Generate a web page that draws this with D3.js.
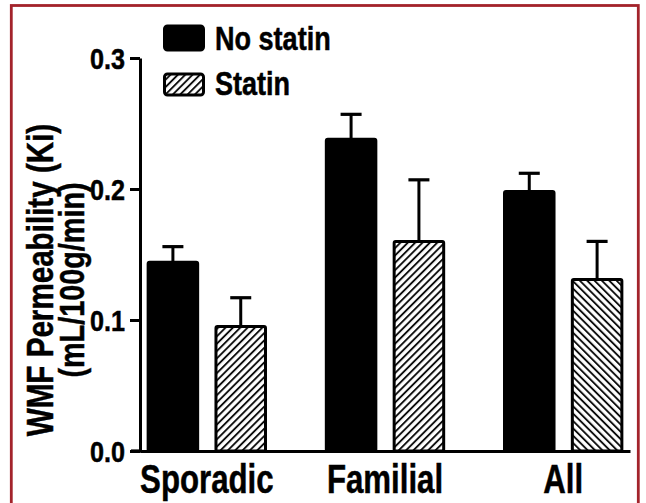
<!DOCTYPE html>
<html>
<head>
<meta charset="utf-8">
<script src="https://cdn.jsdelivr.net/npm/d3@7"></script>
<style>
  html, body { margin: 0; padding: 0; background: #fff; }
  svg text { font-family: "Liberation Sans", Arial, Helvetica, sans-serif; font-weight: bold; fill: #000; stroke: #000; stroke-width: 0.5; }
</style>
</head>
<body>
<div id="chart"></div>
<script>
// data
const groups = ["Sporadic", "Familial", "All"];
const seriesNames = ["No statin", "Statin"];
const noStatin = [0.144, 0.238, 0.198];
const noStatinErr = [0.012, 0.019, 0.014];
const statin = [0.095, 0.160, 0.131];
const statinErr = [0.022, 0.047, 0.029];
const yTicks = [0, 0.1, 0.2, 0.3];

const W = 646, H = 503;
const squeezeK = 0.78; // condensed look of the original font

const svg = d3.select("#chart").append("svg")
  .attr("width", W)
  .attr("height", H);

// hatch patterns
const defs = svg.append("defs");
function hatch(id, angle) {
  const p = defs.append("pattern")
    .attr("id", id)
    .attr("patternUnits", "userSpaceOnUse")
    .attr("width", 5.2)
    .attr("height", 5.2)
    .attr("patternTransform", `rotate(${angle})`);
  p.append("rect").attr("width", 5.2).attr("height", 5.2).attr("fill", "#fff");
  p.append("line")
    .attr("x1", 1).attr("x2", 1).attr("y1", 0).attr("y2", 5.2)
    .attr("stroke", "#000").attr("stroke-width", 1.8);
}
hatch("hatchFwd", 45);
hatch("hatchBack", -45);

// frame
svg.append("rect")
  .attr("x", 11.3).attr("y", 5.5)
  .attr("width", 627).attr("height", 540)
  .attr("fill", "none")
  .attr("stroke", "#a3232b")
  .attr("stroke-width", 2.8);

const rows = groups.map((g, i) => ({
  group: g,
  bars: [
    {name: seriesNames[0], value: noStatin[i], err: noStatinErr[i]},
    {name: seriesNames[1], value: statin[i], err: statinErr[i]}
  ]
}));

const y = d3.scaleLinear().domain([0, 0.3]).range([451, 58]);

const x0 = d3.scaleBand()
  .domain(groups)
  .range([140, 630])
  .paddingInner(0.25)
  .paddingOuter(0);

const x1 = d3.scaleBand()
  .domain(seriesNames)
  .range([0, x0.bandwidth()])
  .paddingInner(0.27)
  .paddingOuter(0.12);

function fillFor(d, g) {
  if (d.name === seriesNames[0]) return "#000";
  return g === "All" ? "url(#hatchBack)" : "url(#hatchFwd)";
}

// bars + error bars
const gGroup = svg.selectAll(".grp")
  .data(rows)
  .join("g")
  .attr("class", "grp")
  .attr("transform", d => `translate(${x0(d.group)},0)`);

gGroup.each(function(row) {
  const g = d3.select(this);
  const bw = x1.bandwidth();

  g.selectAll(".err")
    .data(row.bars)
    .join("g")
    .attr("class", "err")
    .each(function(d) {
      const cx = x1(d.name) + bw / 2;
      const e = d3.select(this);
      e.append("line")
        .attr("x1", cx).attr("x2", cx)
        .attr("y1", y(d.value)).attr("y2", y(d.value + d.err))
        .attr("stroke", "#000").attr("stroke-width", 3);
      e.append("line")
        .attr("x1", cx - 10.5).attr("x2", cx + 10.5)
        .attr("y1", y(d.value + d.err)).attr("y2", y(d.value + d.err))
        .attr("stroke", "#000").attr("stroke-width", 3.2);
    });

  g.selectAll(".bar")
    .data(row.bars)
    .join("rect")
    .attr("class", "bar")
    .attr("x", d => x1(d.name))
    .attr("y", d => y(d.value))
    .attr("width", bw)
    .attr("height", d => y(0) - y(d.value))
    .attr("rx", 1.5)
    .attr("fill", d => fillFor(d, row.group))
    .attr("stroke", "#000")
    .attr("stroke-width", 3);
});

// y axis
const yAxis = svg.append("g")
  .attr("transform", "translate(140,0)")
  .call(d3.axisLeft(y).tickValues(yTicks).tickFormat(d3.format(".1f")).tickSize(10).tickSizeOuter(0));
yAxis.select(".domain").attr("stroke-width", 3);
yAxis.selectAll(".tick line").attr("stroke-width", 3);
yAxis.selectAll(".tick text")
  .attr("x", null)
  .attr("dy", "0.36em")
  .attr("font-size", 30)
  .attr("transform", `translate(-15,0) scale(0.84,1)`);

// x axis
const xAxis = svg.append("g")
  .attr("transform", `translate(0,${y(0)})`)
  .call(d3.axisBottom(x0).tickSize(0).tickSizeOuter(0));
xAxis.select(".domain").attr("stroke-width", 3.2);
xAxis.selectAll(".tick text")
  .attr("y", null)
  .attr("dy", null)
  .attr("font-size", 40)
  .attr("transform", `translate(0,42) scale(${squeezeK},1)`);
// short left stub below the y axis (0.0 tick merges with baseline)
svg.append("line")
  .attr("x1", 131).attr("x2", 141)
  .attr("y1", y(0)).attr("y2", y(0))
  .attr("stroke", "#000").attr("stroke-width", 3.2);

// y title
const title = svg.append("g").attr("transform", "translate(0,280) rotate(-90)");
title.append("text")
  .attr("text-anchor", "middle")
  .attr("font-size", 37)
  .attr("transform", `translate(0,53) scale(0.8,1)`)
  .text("WMF Permeability (Ki)");
title.append("text")
  .attr("text-anchor", "middle")
  .attr("font-size", 36)
  .attr("transform", `translate(0,84) scale(0.8,1)`)
  .text("(mL/100g/min)");

// legend
const legend = svg.append("g").attr("transform", "translate(163,0)");
const legendRows = [
  {name: seriesNames[0], fill: "#000", y: 26, h: 24},
  {name: seriesNames[1], fill: "url(#hatchFwd)", y: 74, h: 21}
];
legendRows.forEach(r => {
  legend.append("rect")
    .attr("x", 1.5).attr("y", r.y)
    .attr("width", 39).attr("height", r.h)
    .attr("rx", 3)
    .attr("fill", r.fill)
    .attr("stroke", "#000").attr("stroke-width", 3);
  legend.append("text")
    .attr("font-size", 33)
    .attr("transform", `translate(52,${r.y + r.h - 0.5}) scale(0.82,1)`)
    .text(r.name);
});
</script>
</body>
</html>
